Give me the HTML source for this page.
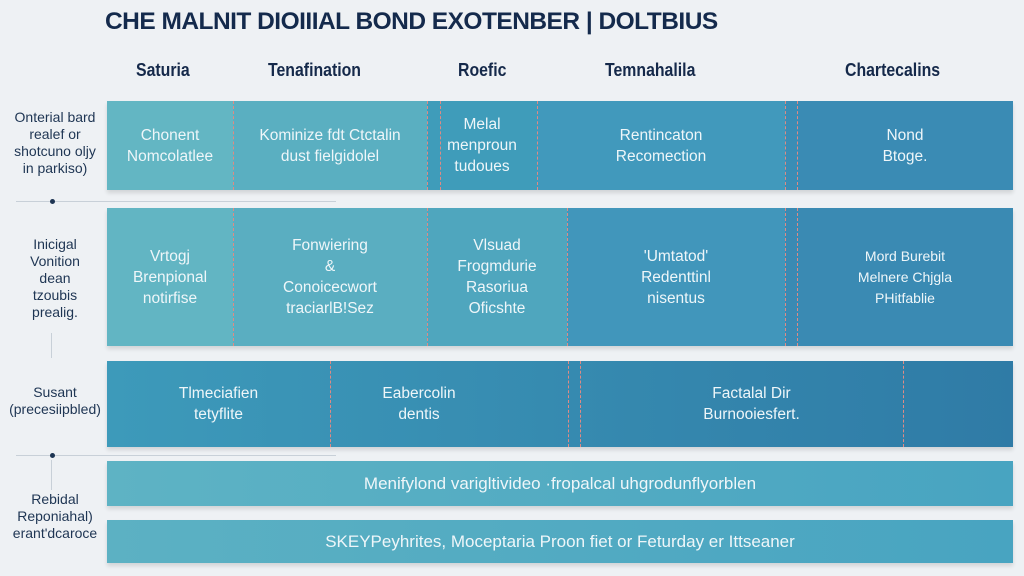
<!DOCTYPE html>
<html><head><meta charset="utf-8"><style>
body{margin:0;width:1024px;height:576px;background:#eef1f4;position:relative;overflow:hidden;font-family:"Liberation Sans",sans-serif}
.a{position:absolute}
.c{position:absolute;display:flex;align-items:center;justify-content:center;text-align:center;color:#eef6f9;font-size:15.5px;line-height:21px;box-sizing:border-box}
.d{position:absolute;width:0;border-left:1.5px dashed #e08a84}
.l{position:absolute;color:#1e3553;font-size:14px;line-height:17px;text-align:center;width:110px}
.h{position:absolute;color:#15294a;font-size:18px;font-weight:bold;transform:scaleX(0.88);transform-origin:left}
.sh{box-shadow:0 3px 4px rgba(0,0,0,0.12)}
</style></head><body>
<div class="a" style="left:105px;top:8px;font-size:24px;font-weight:bold;color:#142a4c;transform:scaleX(1.02);transform-origin:left;white-space:nowrap;letter-spacing:-0.5px">CHE MALNIT DIOIIIAL BOND EXOTENBER | DOLTBIUS</div>
<div class="h" style="left:136px;top:60px">Saturia</div>
<div class="h" style="left:268px;top:60px">Tenafination</div>
<div class="h" style="left:458px;top:60px">Roefic</div>
<div class="h" style="left:605px;top:60px">Temnahalila</div>
<div class="h" style="left:845px;top:60px">Chartecalins</div>

<div class="l" style="left:0;top:109px">Onterial bard<br>realef or<br>shotcuno oljy<br>in parkiso)</div>
<div class="a" style="left:16px;top:201px;width:320px;border-top:1px solid #c8d0d8"></div>
<div class="a" style="left:50px;top:199px;width:5px;height:5px;border-radius:50%;background:#1e3553"></div>
<div class="l" style="left:0;top:236px">Inicigal<br>Vonition<br>dean<br>tzoubis<br>prealig.</div>
<div class="a" style="left:51px;top:333px;height:25px;border-left:1px solid #c8d0d8"></div>
<div class="l" style="left:0;top:384px">Susant<br>(precesiipbled)</div>
<div class="a" style="left:16px;top:455px;width:320px;border-top:1px solid #c8d0d8"></div>
<div class="a" style="left:50px;top:453px;width:5px;height:5px;border-radius:50%;background:#1e3553"></div>
<div class="a" style="left:51px;top:460px;height:30px;border-left:1px solid #c8d0d8"></div>
<div class="l" style="left:0;top:491px">Rebidal<br>Reponiahal)<br>erant'dcaroce</div>

<!-- row1 -->
<div class="a sh" style="left:107px;top:101px;width:906px;height:89px;background:#3a8db5"></div>
<div class="c" style="left:107px;top:101px;width:126px;height:89px;background:#63b6c3">Chonent<br>Nomcolatlee</div>
<div class="c" style="left:233px;top:101px;width:194px;height:89px;background:#5aafc1">Kominize fdt Ctctalin<br>dust fielgidolel</div>
<div class="c" style="left:427px;top:101px;width:110px;height:89px;background:#3f9cba">Melal<br>menproun<br>tudoues</div>
<div class="c" style="left:537px;top:101px;width:248px;height:89px;background:#4199bc">Rentincaton<br>Recomection</div>
<div class="c" style="left:797px;top:101px;width:216px;height:89px;background:#3a8bb4">Nond<br>Btoge.</div>
<div class="d" style="left:233px;top:101px;height:89px"></div>
<div class="d" style="left:427px;top:101px;height:89px"></div>
<div class="d" style="left:440px;top:101px;height:89px"></div>
<div class="d" style="left:537px;top:101px;height:89px"></div>
<div class="d" style="left:785px;top:101px;height:89px"></div>
<div class="d" style="left:797px;top:101px;height:89px"></div>

<!-- row2 -->
<div class="a sh" style="left:107px;top:208px;width:906px;height:138px;background:#3a8ab3"></div>
<div class="c" style="left:107px;top:208px;width:126px;height:138px;background:#62b5c3">Vrtogj<br>Brenpional<br>notirfise</div>
<div class="c" style="left:233px;top:208px;width:194px;height:138px;background:#5aaec1">Fonwiering<br>&amp;<br>Conoicecwort<br>traciarlB!Sez</div>
<div class="c" style="left:427px;top:208px;width:140px;height:138px;background:#4fa6be">Vlsuad<br>Frogmdurie<br>Rasoriua<br>Oficshte</div>
<div class="c" style="left:567px;top:208px;width:218px;height:138px;background:#4196bb">'Umtatod'<br>Redenttinl<br>nisentus</div>
<div class="c" style="left:797px;top:208px;width:216px;height:138px;background:#3a8ab3;font-size:14px">Mord Burebit<br>Melnere Chjgla<br>PHitfablie</div>
<div class="d" style="left:233px;top:208px;height:138px"></div>
<div class="d" style="left:427px;top:208px;height:138px"></div>
<div class="d" style="left:567px;top:208px;height:138px"></div>
<div class="d" style="left:785px;top:208px;height:138px"></div>
<div class="d" style="left:797px;top:208px;height:138px"></div>

<!-- row3 -->
<div class="a sh" style="left:107px;top:361px;width:906px;height:86px;background:linear-gradient(90deg,#3d9aba,#2f7ba6)"></div>
<div class="c" style="left:107px;top:361px;width:223px;height:86px">Tlmeciafien<br>tetyflite</div>
<div class="c" style="left:330px;top:361px;width:238px;height:86px;padding-right:60px">Eabercolin<br>dentis</div>
<div class="c" style="left:580px;top:361px;width:323px;height:86px;padding-left:20px">Factalal Dir<br>Burnooiesfert.</div>
<div class="d" style="left:330px;top:361px;height:86px"></div>
<div class="d" style="left:568px;top:361px;height:86px"></div>
<div class="d" style="left:580px;top:361px;height:86px"></div>
<div class="d" style="left:903px;top:361px;height:86px"></div>

<!-- row4/5 -->
<div class="c sh" style="left:107px;top:461px;width:906px;height:45px;background:linear-gradient(90deg,#5eb3c4,#48a4c1);font-size:17px">Menifylond varigltivideo ·fropalcal uhgrodunflyorblen</div>
<div class="c sh" style="left:107px;top:520px;width:906px;height:43px;background:linear-gradient(90deg,#5cb1c3,#48a4c1);font-size:17px">SKEYPeyhrites, Moceptaria Proon fiet or Feturday er Ittseaner</div>
</body></html>
